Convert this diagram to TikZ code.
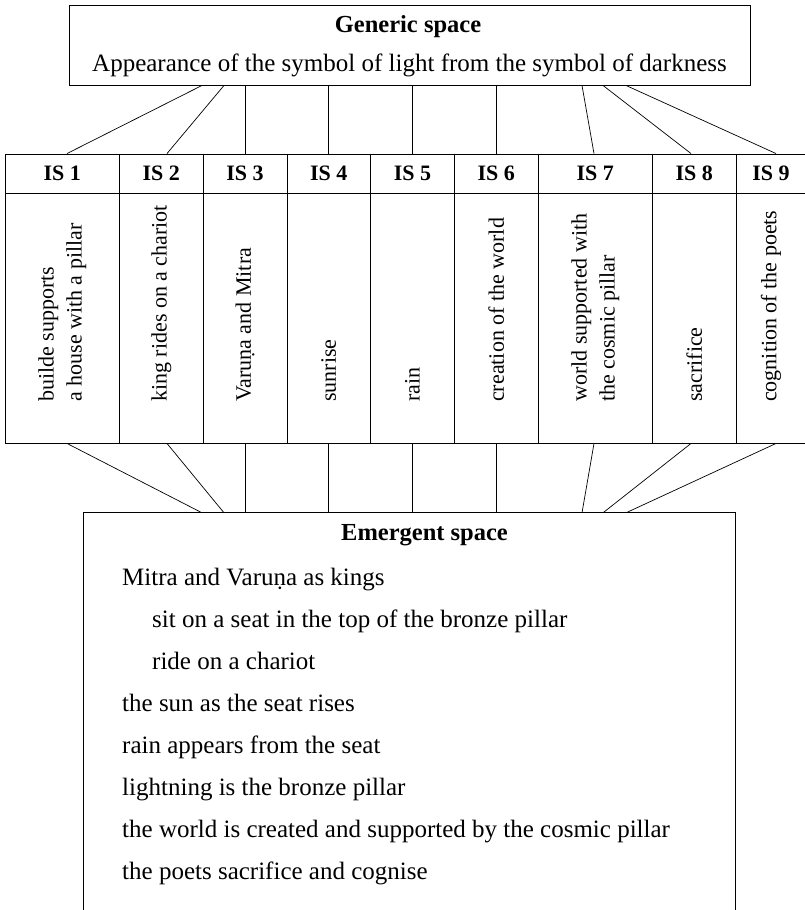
\documentclass[tikz,border=0pt]{standalone}
\usepackage{fontspec}
\setmainfont{Liberation Serif}
\begin{document}
\begin{tikzpicture}[x=1pt,y=-1pt,
  frame/.style={draw, line width=0.9pt, inner sep=0pt},
  link/.style={line width=0.7pt},
  big/.style={inner sep=0pt, font=\fontsize{25}{30}\selectfont},
  bigbold/.style={inner sep=0pt, font=\fontsize{24.5}{30}\selectfont\bfseries},
  headcell/.style={frame, minimum height=39pt, font=\fontsize{22}{26}\selectfont\bfseries},
  bodycell/.style={frame, minimum height=250pt},
  vtext/.style={rotate=90, anchor=west, align=left, inner sep=0pt, font=\fontsize{22}{28}\selectfont},
  textline/.style={anchor=base west, inner sep=0pt, font=\fontsize{25}{30}\selectfont}
]
\useasboundingbox (0,0) rectangle (805,910);

% Generic space
\node[frame, minimum width=681pt, minimum height=80pt] (gen) at (409.5,45) {};
\node[anchor=base, bigbold] (gtitle) at (408,32) {Generic space};
\node[anchor=base, big] (gtext) at (409.5,71) {Appearance of the symbol of light from the symbol of darkness};

% Input spaces: header cell and body cell for each column
\foreach \k/\cx/\w in {1/62.25/114.5, 2/161.25/83.5, 3/245/84, 4/328.75/83.5,
                       5/412.5/84, 6/496.25/83.5, 7/595.25/114.5, 8/694.25/83.5, 9/771/70}{
  \node[headcell, minimum width=\w pt] (h\k) at (\cx,173.5) {IS \k};
  \node[bodycell, minimum width=\w pt] (c\k) at (\cx,318) {};
}

% Column texts, reading upwards
\node[vtext] (t1) at (62.25,402) {builde supports\\a house with a pillar};
\node[vtext] (t2) at (161.25,402) {king rides on a chariot};
\node[vtext] (t3) at (245,402) {Varuṇa and Mitra};
\node[vtext] (t4) at (328.75,402) {sunrise};
\node[vtext] (t5) at (412.5,402) {rain};
\node[vtext] (t6) at (496.25,402) {creation of the world};
\node[vtext] (t7) at (595.25,402) {world supported with\\the cosmic pillar};
\node[vtext] (t8) at (694.25,402) {sacrifice};
\node[vtext] (t9) at (771,402) {cognition of the poets};

% Emergent space (open at the bottom edge)
\node[minimum width=651pt, minimum height=402pt, inner sep=0pt] (em) at (409.5,714) {};
\draw[line width=0.9pt] (em.south west) -- (em.north west) -- (em.north east) -- (em.south east);
\node[anchor=base, bigbold] (etitle) at (424.5,540) {Emergent space};
\node[textline] (e1) at (122,585) {Mitra and Varuṇa as kings};
\node[textline] (e2) at (152,627) {sit on a seat in the top of the bronze pillar};
\node[textline] (e3) at (152,669) {ride on a chariot};
\node[textline] (e4) at (122,711) {the sun as the seat rises};
\node[textline] (e5) at (122,753) {rain appears from the seat};
\node[textline] (e6) at (122,795) {lightning is the bronze pillar};
\node[textline] (e7) at (122,837) {the world is created and supported by the cosmic pillar};
\node[textline] (e8) at (122,879) {the poets sacrifice and cognise};

% Connectors: generic space -> input spaces -> emergent space
\foreach \k/\gx/\ix in {1/202/67, 2/224/167, 3/245/245, 4/328.75/328.75, 5/412.5/412.5,
                        6/496.25/496.25, 7/582/594, 8/603/691, 9/626/776}{
  \draw[link] (gen.south -| \gx,0) -- (h\k.north -| \ix,0);
  \draw[link] (c\k.south -| \ix,0) -- (em.north -| \gx,0);
}
\end{tikzpicture}
\end{document}
